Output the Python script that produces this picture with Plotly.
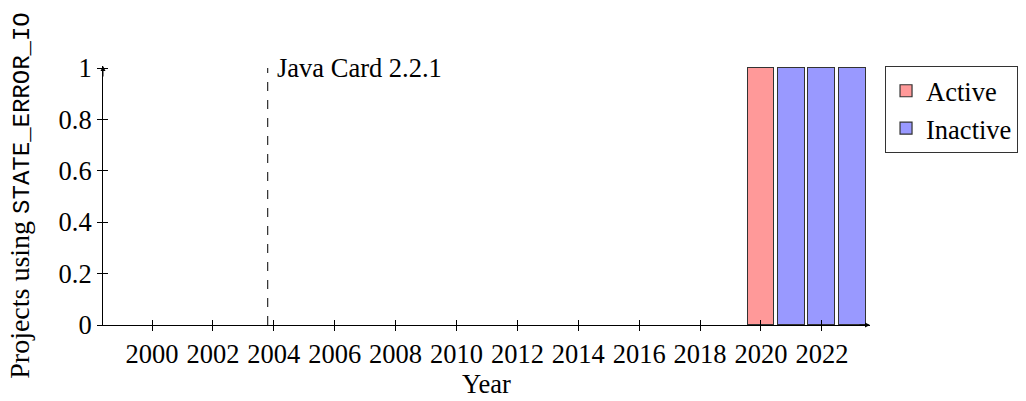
import plotly.graph_objects as go

years = [2020, 2021, 2022, 2023]
active = [1, 0, 0, 0]
inactive = [0, 1, 1, 1]
event_year = [2003.8]
event_label = ["Java Card 2.2.1"]
x_ticks = [2000, 2002, 2004, 2006, 2008, 2010, 2012, 2014, 2016, 2018, 2020, 2022]
y_ticks = [0, 0.2, 0.4, 0.6, 0.8, 1]
y_tick_text = ["0", "0.2", "0.4", "0.6", "0.8", "1"]

XR = [1998.39, 2023.58]
YR = [0, 1.0078]
SERIF = "Liberation Serif, DejaVu Serif, serif"
MONO = "Liberation Mono, DejaVu Sans Mono, monospace"
FS = 26.5

fig = go.Figure()
fig.add_trace(go.Bar(x=years, y=active, name="Active", width=0.88,
                     marker=dict(color="#FF9999", line=dict(color="#333333", width=1.2))))
fig.add_trace(go.Bar(x=years, y=inactive, name="Inactive", width=0.88,
                     marker=dict(color="#9999FF", line=dict(color="#333333", width=1.2))))
# helper trace for inner tick marks
fig.add_trace(go.Scatter(x=[], y=[], xaxis="x2", yaxis="y2", showlegend=False))

for ev, lab in zip(event_year, event_label):
    fig.add_shape(type="line", x0=ev, x1=ev, y0=0, y1=1, xref="x", yref="y",
                  line=dict(color="black", width=1, dash="dash"))
    fig.add_annotation(x=ev, y=1, xref="x", yref="y", text=lab, showarrow=False,
                       xanchor="left", yanchor="middle", xshift=7,
                       font=dict(family=SERIF, size=FS, color="black"))

# axis arrows
fig.add_annotation(x=XR[1], y=0, xref="x", yref="y", ax=-12, ay=0, text="",
                   showarrow=True, arrowhead=2, arrowsize=1, arrowwidth=1, arrowcolor="black")
fig.add_annotation(x=XR[0], y=YR[1], xref="x", yref="y", ax=0, ay=12, text="",
                   showarrow=True, arrowhead=2, arrowsize=1, arrowwidth=1, arrowcolor="black")

common_x = dict(range=XR, tickvals=x_ticks, showgrid=False, zeroline=False, automargin=False)
common_y = dict(range=YR, tickvals=y_ticks, showgrid=False, zeroline=False, automargin=False)

fig.update_layout(
    width=1026, height=401,
    margin=dict(l=103, r=156, t=66, b=76, autoexpand=False),
    paper_bgcolor="white", plot_bgcolor="white",
    barmode="stack",
    font=dict(family=SERIF, size=FS, color="black"),
    xaxis=dict(**common_x, showline=True, linecolor="black", linewidth=1,
               ticks="outside", ticklen=5, tickcolor="black", tickwidth=0.8,
               ticktext=[str(v) for v in x_ticks],
               title=dict(text="Year", font=dict(family=SERIF, size=FS), standoff=5)),
    yaxis=dict(**common_y, ticktext=y_tick_text, showline=True, linecolor="black", linewidth=1,
               ticks="outside", ticklen=5, tickcolor="black", tickwidth=0.8,
               title=dict(text="Projects using <span style=\"font-family:" + MONO + ";font-size:24px\">STATE_ERROR_IO</span>",
                          font=dict(family=SERIF, size=28), standoff=20)),
    xaxis2=dict(**common_x, overlaying="x", side="bottom", showline=False, showticklabels=False,
                ticks="inside", ticklen=5, tickcolor="black", tickwidth=0.8),
    yaxis2=dict(**common_y, overlaying="y", side="left", showline=False, showticklabels=False,
                ticks="inside", ticklen=5, tickcolor="black", tickwidth=0.8),
    legend=dict(x=1.0196, y=1.0, xanchor="left", yanchor="top",
                bordercolor="#333333", borderwidth=1, bgcolor="white",
                font=dict(family=SERIF, size=FS), traceorder="normal",
                itemwidth=30, tracegroupgap=0),
    showlegend=True,
    bargap=0,
)

fig.write_html("out.html", config={"displayModeBar": False},
               post_script="document.body.style.margin='0';document.body.style.padding='0';")
